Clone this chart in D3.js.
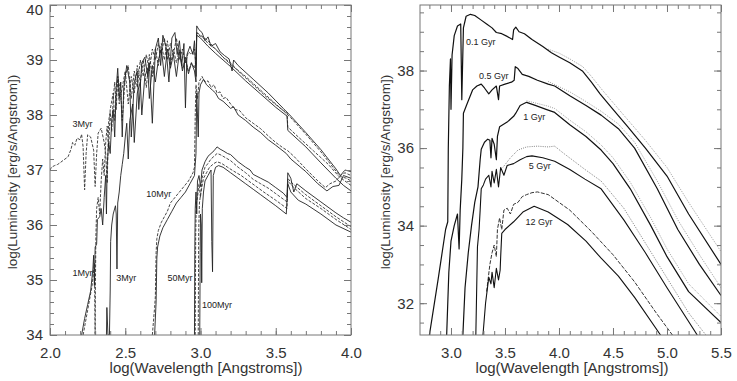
<!DOCTYPE html>
<html>
<head>
<meta charset="utf-8">
<script src="https://cdn.jsdelivr.net/npm/d3@7"></script>
<style>
  body { margin: 0; background: #fff; }
  svg { display: block; }
  .tick text { font-family: "Liberation Sans", Arial, sans-serif; font-size: 15px; fill: #333; }
  .tick line { stroke: #777; }
  .title { font-family: "Liberation Sans", Arial, sans-serif; font-size: 15px; fill: #333; }
  .ytitle { font-size: 13.5px; }
  .lbl { font-family: "Liberation Sans", Arial, sans-serif; font-size: 9px; fill: #222; }
</style>
</head>
<body>
<svg></svg>
<script>
let width = 737
let height = 381

// ---- left panel: young populations (log lambda, log L) ----
let myr1Solid = [[2.21,34.0],[2.23,34.3],[2.25,34.55],[2.27,34.8],[2.285,35.2],[2.29,35.45],[2.295,34.9],[2.30,35.6],[2.31,35.65],[2.315,36.1],[2.33,36.15],[2.34,36.3],[2.35,36.0],[2.36,36.5],[2.37,36.9],[2.375,36.2],[2.38,37.1],[2.39,37.5],[2.40,37.3],[2.41,37.9],[2.42,38.1],[2.43,37.6],[2.44,38.5],[2.45,38.85],[2.46,38.3],[2.47,38.6],[2.48,37.6],[2.49,38.5],[2.51,38.9],[2.53,38.6],[2.54,37.6],[2.56,38.6],[2.58,38.8],[2.59,38.1],[2.61,38.95],[2.63,39.05],[2.65,38.7],[2.66,38.95],[2.68,37.85],[2.70,39.2],[2.72,39.4],[2.735,38.9],[2.75,39.45],[2.77,39.25],[2.79,38.6],[2.81,39.4],[2.83,39.5],[2.845,39.1],[2.86,39.35],[2.875,38.9],[2.89,39.3],[2.90,38.13],[2.91,39.1],[2.93,39.25],[2.95,39.1],[2.96,39.35],[2.97,38.7],[2.975,39.62],[2.99,39.55],[3.01,39.5],[3.03,39.35],[3.05,39.42],[3.07,39.25],[3.10,39.3],[3.13,39.15],[3.16,39.08],[3.19,39.02],[3.21,38.8],[3.22,39.0],[3.25,38.9],[3.35,38.65],[3.45,38.4],[3.55,38.12],[3.60,37.98],[3.70,37.68],[3.80,37.37],[3.90,37.02],[3.93,36.9],[3.96,37.0],[4.0,36.97]]
let myr1Dashed = [[2.22,34.0],[2.25,34.45],[2.28,34.9],[2.295,35.3],[2.30,34.0],[2.302,35.0],[2.305,35.8],[2.31,36.3],[2.32,36.5],[2.33,36.2],[2.34,36.8],[2.35,37.2],[2.36,36.9],[2.37,37.5],[2.38,37.8],[2.39,37.4],[2.40,38.1],[2.42,38.4],[2.43,37.9],[2.45,38.7],[2.46,38.2],[2.48,38.5],[2.50,38.8],[2.52,38.2],[2.54,38.7],[2.56,38.4],[2.58,38.9],[2.60,38.6],[2.62,39.0],[2.64,38.5],[2.66,39.1],[2.68,38.7],[2.70,39.2],[2.72,38.9],[2.74,39.3],[2.76,39.0],[2.78,39.35],[2.80,38.9],[2.82,39.2],[2.84,38.95],[2.86,39.2],[2.88,38.85],[2.90,39.0],[2.92,38.8],[2.94,38.95],[2.96,38.85],[2.97,39.0],[2.975,39.5],[3.0,39.45],[3.05,39.35],[3.10,39.2],[3.15,39.05],[3.20,38.92],[3.30,38.7],[3.40,38.45],[3.50,38.2],[3.55,38.08],[3.60,37.95],[3.70,37.65],[3.80,37.33],[3.90,36.98],[3.93,36.88],[3.97,36.85],[4.0,36.8]]
let myr3Dashed = [[2.0,37.0],[2.01,37.05],[2.03,37.08],[2.05,37.1],[2.066,37.13],[2.09,37.18],[2.12,37.24],[2.14,37.38],[2.15,37.5],[2.165,37.45],[2.18,37.58],[2.20,37.55],[2.21,37.65],[2.22,37.42],[2.23,36.64],[2.24,37.3],[2.25,37.64],[2.27,37.6],[2.29,37.36],[2.30,36.7],[2.31,37.3],[2.32,37.67],[2.34,37.76],[2.36,37.5],[2.37,37.3],[2.38,36.76],[2.39,37.9],[2.40,38.05],[2.41,37.7],[2.42,38.3],[2.43,38.6],[2.44,38.1],[2.45,38.7],[2.47,38.4],[2.48,37.9],[2.50,38.7],[2.52,38.9],[2.54,38.3],[2.56,38.8],[2.58,38.5],[2.60,39.0],[2.62,38.7],[2.64,39.1],[2.66,38.8],[2.68,39.2],[2.70,39.0],[2.72,39.3],[2.74,39.1],[2.76,39.4],[2.78,39.0],[2.80,39.3],[2.82,39.1],[2.84,39.4],[2.86,39.0],[2.88,39.2],[2.90,38.95],[2.92,39.15],[2.94,39.1],[2.96,39.2],[2.97,38.9],[2.975,39.5],[2.99,39.45],[3.02,39.4],[3.05,39.3],[3.10,39.2],[3.15,39.05],[3.20,38.95],[3.25,38.8],[3.35,38.55],[3.45,38.3],[3.55,38.08],[3.575,38.05],[3.58,37.78],[3.65,37.6],[3.75,37.35],[3.85,37.1],[3.92,36.88],[3.96,36.8],[4.0,36.72]]
let myr3Solid = [[2.375,34.0],[2.378,34.5],[2.385,34.0],[2.395,34.0],[2.40,34.8],[2.403,35.7],[2.41,36.0],[2.42,36.2],[2.435,36.35],[2.44,36.2],[2.445,35.2],[2.45,36.4],[2.46,36.6],[2.47,36.9],[2.48,37.1],[2.49,37.3],[2.50,37.6],[2.51,37.85],[2.52,37.2],[2.53,37.9],[2.55,38.2],[2.56,37.5],[2.58,38.4],[2.60,38.6],[2.61,38.0],[2.63,38.7],[2.65,38.85],[2.66,38.3],[2.68,38.9],[2.70,38.6],[2.72,39.0],[2.74,39.2],[2.76,38.7],[2.78,39.2],[2.80,38.85],[2.82,39.1],[2.84,38.7],[2.86,39.15],[2.88,38.8],[2.90,39.05],[2.92,38.75],[2.94,38.95],[2.96,38.8],[2.97,38.6],[2.975,39.45],[3.0,39.4],[3.05,39.25],[3.10,39.12],[3.15,39.0],[3.20,38.88],[3.30,38.62],[3.40,38.38],[3.50,38.14],[3.575,37.98],[3.58,37.72],[3.70,37.42],[3.80,37.13],[3.90,36.85],[3.95,36.72],[4.0,36.62]]
let myr10Dashed = [[2.68,34.0],[2.695,34.5],[2.70,34.7],[2.705,35.5],[2.71,35.75],[2.72,35.9],[2.74,36.05],[2.76,36.15],[2.78,36.25],[2.80,36.4],[2.83,36.5],[2.86,36.6],[2.89,36.7],[2.92,36.8],[2.95,36.95],[2.96,37.05],[2.965,38.0],[2.97,38.55],[2.98,38.3],[2.99,38.6],[3.01,38.7],[3.03,38.6],[3.05,38.62],[3.07,38.5],[3.09,38.55],[3.11,38.4],[3.13,38.42],[3.15,38.3],[3.17,38.32],[3.20,38.2],[3.23,38.1],[3.26,38.08],[3.30,37.95],[3.35,37.85],[3.40,37.75],[3.45,37.62],[3.50,37.5],[3.55,37.4],[3.58,37.35],[3.62,37.25],[3.70,37.02],[3.78,36.8],[3.83,36.68],[3.86,36.75],[3.90,36.8],[3.93,36.9],[3.96,36.95],[4.0,36.9]]
let myr10Solid = [[2.695,34.0],[2.705,34.6],[2.71,35.4],[2.715,35.6],[2.73,35.8],[2.75,35.95],[2.78,36.1],[2.81,36.25],[2.84,36.4],[2.87,36.5],[2.90,36.6],[2.93,36.75],[2.96,36.9],[2.97,37.3],[2.975,38.4],[2.985,37.6],[2.99,38.4],[3.0,38.55],[3.02,38.65],[3.04,38.55],[3.06,38.5],[3.08,38.45],[3.10,38.4],[3.12,38.3],[3.15,38.25],[3.20,38.12],[3.22,38.15],[3.25,38.0],[3.30,37.9],[3.35,37.78],[3.40,37.68],[3.45,37.55],[3.50,37.45],[3.57,37.3],[3.60,37.2],[3.70,36.97],[3.78,36.75],[3.84,36.62],[3.88,36.7],[3.92,36.72],[3.95,36.9],[4.0,36.85]]
let myr50Solid = [[2.96,34.0],[2.962,35.5],[2.965,36.3],[2.97,36.6],[2.975,36.2],[2.98,36.8],[2.99,36.9],[3.0,36.7],[3.01,37.0],[3.03,37.15],[3.05,37.25],[3.07,37.3],[3.09,37.35],[3.11,37.42],[3.13,37.38],[3.15,37.35],[3.18,37.3],[3.20,37.28],[3.25,37.15],[3.30,37.05],[3.33,37.0],[3.35,36.92],[3.40,36.85],[3.45,36.78],[3.50,36.68],[3.55,36.58],[3.575,36.5],[3.58,36.95],[3.60,36.85],[3.62,36.6],[3.64,36.75],[3.70,36.62],[3.80,36.42],[3.90,36.22],[3.95,36.13],[4.0,36.05]]
let myr50Dashed = [[2.965,34.0],[2.968,35.8],[2.972,36.4],[2.98,36.5],[2.99,36.75],[3.0,36.5],[3.01,36.85],[3.03,37.05],[3.05,37.12],[3.07,37.2],[3.09,37.25],[3.11,37.3],[3.13,37.28],[3.15,37.25],[3.20,37.17],[3.25,37.05],[3.30,36.95],[3.35,36.83],[3.40,36.75],[3.45,36.67],[3.50,36.57],[3.575,36.42],[3.58,36.85],[3.60,36.78],[3.70,36.55],[3.80,36.35],[3.90,36.15],[4.0,35.97]]
let myr100Solid = [[2.995,34.0],[2.998,35.5],[3.0,36.2],[3.005,36.0],[3.008,34.95],[3.012,36.3],[3.02,36.6],[3.03,36.8],[3.05,36.9],[3.07,37.0],[3.075,35.7],[3.08,35.15],[3.085,36.9],[3.10,37.05],[3.12,37.08],[3.15,37.05],[3.20,36.95],[3.25,36.85],[3.30,36.75],[3.35,36.65],[3.40,36.55],[3.45,36.45],[3.50,36.35],[3.57,36.2],[3.58,36.75],[3.60,36.6],[3.65,36.45],[3.70,36.38],[3.80,36.2],[3.90,36.0],[4.0,35.87]]
let myr100Dashed = [[2.985,34.0],[2.988,35.9],[2.993,36.4],[3.0,36.55],[3.01,36.7],[3.02,36.85],[3.04,36.95],[3.06,37.05],[3.09,37.12],[3.11,37.15],[3.14,37.12],[3.18,37.05],[3.22,36.98],[3.27,36.9],[3.32,36.8],[3.37,36.7],[3.42,36.6],[3.50,36.45],[3.575,36.3],[3.58,36.8],[3.62,36.68],[3.70,36.48],[3.80,36.3],[3.90,36.1],[4.0,35.92]]

// ---- right panel: older populations ----
let gyr01Solid = [[2.80,31.18],[2.88,32.6],[2.95,33.9],[2.97,34.1],[2.975,36.0],[2.985,37.6],[2.995,38.3],[3.0,37.0],[3.01,38.4],[3.03,38.9],[3.06,39.15],[3.09,39.2],[3.10,37.25],[3.115,39.1],[3.14,39.4],[3.18,39.45],[3.22,39.42],[3.28,39.3],[3.33,39.2],[3.38,39.1],[3.42,38.98],[3.47,38.95],[3.52,38.88],[3.57,38.8],[3.58,39.05],[3.60,39.12],[3.63,39.0],[3.68,38.95],[3.75,38.8],[3.85,38.62],[3.93,38.46],[4.0,38.35],[4.1,38.2],[4.22,37.98],[4.30,37.7],[4.38,37.4],[4.50,37.0],[4.63,36.57],[4.80,36.0],[5.0,35.28],[5.2,34.3],[5.5,33.0]]
let gyr01Dotted = [[3.90,38.55],[4.0,38.45],[4.1,38.3],[4.22,38.1],[4.30,37.85],[4.40,37.5],[4.63,36.75],[4.80,36.2],[5.0,35.5],[5.2,34.6],[5.5,33.33]]
let gyr05Solid = [[2.96,31.18],[2.98,32.8],[3.0,33.6],[3.03,34.0],[3.06,34.3],[3.075,33.4],[3.085,34.4],[3.10,35.2],[3.11,36.0],[3.115,36.9],[3.15,37.15],[3.20,37.5],[3.24,37.6],[3.28,37.65],[3.31,37.55],[3.35,37.4],[3.38,37.5],[3.42,37.6],[3.44,37.25],[3.45,37.6],[3.50,37.65],[3.56,37.7],[3.585,37.75],[3.595,38.1],[3.62,38.05],[3.66,37.9],[3.72,37.85],[3.80,37.75],[3.90,37.65],[3.96,37.6],[4.1,37.35],[4.25,37.1],[4.39,36.85],[4.55,36.5],[4.70,36.0],[4.91,34.95],[5.1,33.9],[5.3,33.0],[5.5,32.2]]
let gyr05Dotted = [[3.90,37.72],[4.1,37.45],[4.25,37.2],[4.39,36.95],[4.55,36.62],[4.70,36.15],[4.91,35.15],[5.1,34.15],[5.3,33.25],[5.5,32.4]]
let gyr1Solid = [[3.11,31.18],[3.13,32.4],[3.16,33.3],[3.19,34.0],[3.22,34.6],[3.25,35.0],[3.27,35.7],[3.28,35.97],[3.31,36.15],[3.34,36.23],[3.36,36.2],[3.37,35.75],[3.38,36.25],[3.40,36.1],[3.42,35.7],[3.43,36.3],[3.45,36.55],[3.52,36.67],[3.58,36.82],[3.60,36.9],[3.64,37.1],[3.70,37.18],[3.78,37.1],[3.88,37.0],[3.96,36.92],[4.1,36.6],[4.25,36.3],[4.39,35.95],[4.50,35.6],[4.66,34.95],[4.85,34.0],[5.0,33.2],[5.2,32.3],[5.5,31.5]]
let gyr1Dotted = [[3.70,37.22],[3.80,37.15],[3.90,37.08],[3.96,37.02],[4.1,36.72],[4.25,36.42],[4.39,36.08],[4.50,35.75],[4.66,35.12],[4.85,34.2],[5.0,33.4],[5.2,32.5],[5.5,31.66]]
let gyr5Solid = [[3.23,31.18],[3.245,33.45],[3.26,33.9],[3.27,34.4],[3.28,34.95],[3.30,35.05],[3.32,35.2],[3.35,35.3],[3.37,35.0],[3.38,35.4],[3.40,35.1],[3.42,35.45],[3.44,35.0],[3.46,35.5],[3.49,35.3],[3.52,35.55],[3.58,35.6],[3.64,35.7],[3.70,35.78],[3.75,35.8],[3.85,35.75],[3.96,35.66],[4.1,35.45],[4.24,35.2],[4.39,34.95],[4.6,34.15],[4.8,33.3],[5.0,32.4],[5.28,31.18]]
let gyr5Dotted = [[3.48,35.5],[3.55,35.75],[3.62,35.95],[3.70,36.03],[3.80,36.05],[3.90,36.03],[3.96,36.05],[4.05,35.85],[4.24,35.45],[4.39,35.15],[4.6,34.45],[4.8,33.55],[5.0,32.65],[5.2,31.75],[5.36,31.18]]
let gyr12Solid = [[3.296,31.18],[3.32,32.0],[3.35,32.67],[3.37,32.5],[3.38,32.8],[3.40,32.4],[3.42,32.9],[3.44,32.6],[3.455,32.85],[3.46,33.2],[3.47,33.8],[3.50,33.9],[3.58,34.1],[3.67,34.36],[3.77,34.5],[3.90,34.35],[4.08,34.03],[4.25,33.6],[4.39,33.16],[4.55,32.7],[4.70,32.15],[4.94,31.18]]
let gyr12Dashed = [[3.33,32.3],[3.36,33.0],[3.38,33.3],[3.40,33.5],[3.42,33.2],[3.43,33.9],[3.45,34.2],[3.47,33.9],[3.49,34.4],[3.52,34.45],[3.55,34.3],[3.58,34.55],[3.62,34.6],[3.66,34.75],[3.70,34.8],[3.75,34.85],[3.80,34.87],[3.90,34.8],[4.1,34.4],[4.3,33.85],[4.5,33.25],[4.7,32.55],[4.9,31.75],[5.05,31.18]]

let leftLabels = [["3Myr",2.15,37.78],["1Myr",2.15,35.07],["3Myr",2.44,34.98],["10Myr",2.64,36.51],["50Myr",2.78,34.98],["100Myr",3.01,34.49]]
let rightLabels = [["0.1 Gyr",3.14,38.66],["0.5 Gyr",3.26,37.77],["1 Gyr",3.67,36.72],["5 Gyr",3.72,35.45],["12 Gyr",3.69,34.02]]

let leftXMajor = [2.0, 2.5, 3.0, 3.5, 4.0]
let leftYMajor = [34, 35, 36, 37, 38, 39, 40]
let rightXMajor = [3.0, 3.5, 4.0, 4.5, 5.0, 5.5]
let rightYMajor = [32, 34, 36, 38]

let svg = d3.select('svg').attr('width', width).attr('height', height)

let leftX = d3.scaleLinear().domain([2, 4]).range([50, 351])
let leftY = d3.scaleLinear().domain([34, 40]).range([335, 5])
let rightX = d3.scaleLinear().domain([2.713, 5.5]).range([420, 721])
let rightY = d3.scaleLinear().domain([31.18, 39.69]).range([335, 5])

let steps = (a, b, s) => d3.range(Math.round(a / s), Math.round(b / s) + 1).map(i => +(i * s).toFixed(2))

let drawAxes = (x, y, xMaj, xMin, yMaj, yMin, yFmt, ypad) => {
  let x0 = x.range()[0], x1 = x.range()[1], y0 = y.range()[0], y1 = y.range()[1]
  let add = (axis, tx, ty) => {
    let g = svg.append('g').attr('transform', 'translate(' + tx + ',' + ty + ')').call(axis)
    g.select('.domain').remove()
    return g
  }
  add(d3.axisBottom(x).tickValues(xMaj).tickSize(-7).tickPadding(12).tickFormat(d3.format('.1f')), 0, y0)
  add(d3.axisBottom(x).tickValues(xMin).tickSize(-4).tickFormat(''), 0, y0)
  add(d3.axisTop(x).tickValues(xMaj).tickSize(-7).tickFormat(''), 0, y1)
  add(d3.axisTop(x).tickValues(xMin).tickSize(-4).tickFormat(''), 0, y1)
  let yl = add(d3.axisLeft(y).tickValues(yMaj).tickSize(-7).tickPadding(ypad).tickFormat(yFmt), x0, 0)
  // keep the top label inside the picture
  yl.selectAll('text').filter(d => y(d) < 10).attr('dy', '0.65em')
  add(d3.axisLeft(y).tickValues(yMin).tickSize(-4).tickFormat(''), x0, 0)
  add(d3.axisRight(y).tickValues(yMaj).tickSize(-7).tickFormat(''), x1, 0)
  add(d3.axisRight(y).tickValues(yMin).tickSize(-4).tickFormat(''), x1, 0)
  svg.append('rect').attr('x', x0).attr('y', y1).attr('width', x1 - x0).attr('height', y0 - y1)
     .attr('fill', 'none').attr('stroke', '#777').attr('stroke-width', 1)
}

let clip = (id, x, y) => {
  svg.append('clipPath').attr('id', id).append('rect')
     .attr('x', x.range()[0]).attr('y', y.range()[1])
     .attr('width', x.range()[1] - x.range()[0]).attr('height', y.range()[0] - y.range()[1])
}
clip('cl', leftX, leftY)
clip('cr', rightX, rightY)

let drawCurve = (pts, x, y, clipId, color, w, dash) => {
  let line = d3.line().x(d => x(d[0])).y(d => y(d[1]))
  svg.append('path').datum(pts)
     .attr('d', line)
     .attr('clip-path', 'url(#' + clipId + ')')
     .attr('fill', 'none')
     .attr('stroke', color)
     .attr('stroke-width', w)
     .attr('stroke-linejoin', 'round')
     .attr('stroke-dasharray', dash)
}

// left panel curves
drawCurve(myr3Dashed, leftX, leftY, 'cl', '#333', 0.9, '3,1.5')
drawCurve(myr1Dashed, leftX, leftY, 'cl', '#333', 0.9, '3,1.5')
drawCurve(myr3Solid, leftX, leftY, 'cl', '#222', 0.9, null)
drawCurve(myr1Solid, leftX, leftY, 'cl', '#222', 0.9, null)
drawCurve(myr10Dashed, leftX, leftY, 'cl', '#333', 0.9, '3,1.5')
drawCurve(myr10Solid, leftX, leftY, 'cl', '#222', 0.9, null)
drawCurve(myr50Dashed, leftX, leftY, 'cl', '#333', 0.9, '3,1.5')
drawCurve(myr50Solid, leftX, leftY, 'cl', '#222', 0.9, null)
drawCurve(myr100Dashed, leftX, leftY, 'cl', '#333', 0.9, '3,1.5')
drawCurve(myr100Solid, leftX, leftY, 'cl', '#222', 0.9, null)

// right panel curves
drawCurve(gyr01Dotted, rightX, rightY, 'cr', '#888', 0.8, '1,1.2')
drawCurve(gyr05Dotted, rightX, rightY, 'cr', '#888', 0.8, '1,1.2')
drawCurve(gyr1Dotted, rightX, rightY, 'cr', '#888', 0.8, '1,1.2')
drawCurve(gyr5Dotted, rightX, rightY, 'cr', '#666', 0.8, '1,1.2')
drawCurve(gyr12Dashed, rightX, rightY, 'cr', '#333', 1, '4,1.5')
drawCurve(gyr01Solid, rightX, rightY, 'cr', '#111', 1.2, null)
drawCurve(gyr05Solid, rightX, rightY, 'cr', '#111', 1.2, null)
drawCurve(gyr1Solid, rightX, rightY, 'cr', '#111', 1.2, null)
drawCurve(gyr5Solid, rightX, rightY, 'cr', '#111', 1.1, null)
drawCurve(gyr12Solid, rightX, rightY, 'cr', '#111', 1.1, null)

drawAxes(leftX, leftY, leftXMajor, steps(2.0, 4.0, 0.1), leftYMajor, steps(34, 40, 0.2), d3.format('d'), 7)
drawAxes(rightX, rightY, rightXMajor, steps(2.8, 5.5, 0.1), rightYMajor, steps(31.5, 39.5, 0.5), d3.format('d'), 6)

svg.selectAll('.lblL').data(leftLabels).enter().append('text').attr('class', 'lbl')
   .attr('x', d => leftX(d[1])).attr('y', d => leftY(d[2])).text(d => d[0])
svg.selectAll('.lblR').data(rightLabels).enter().append('text').attr('class', 'lbl')
   .attr('x', d => rightX(d[1])).attr('y', d => rightY(d[2])).text(d => d[0])

// axis titles
svg.append('text').attr('class', 'title').attr('text-anchor', 'middle')
   .attr('x', 206).attr('y', 373).text('log(Wavelength [Angstroms])')
svg.append('text').attr('class', 'title').attr('text-anchor', 'middle')
   .attr('x', 572).attr('y', 373).text('log(Wavelength [Angstroms])')
svg.append('text').attr('class', 'title ytitle').attr('text-anchor', 'middle')
   .attr('transform', 'translate(17,172) rotate(-90)').text('log(Luminosity [erg/s/Angstrom])')
svg.append('text').attr('class', 'title ytitle').attr('text-anchor', 'middle')
   .attr('transform', 'translate(390,172) rotate(-90)').text('log(Luminosity [erg/s/Angstrom])')
</script>
</body>
</html>
